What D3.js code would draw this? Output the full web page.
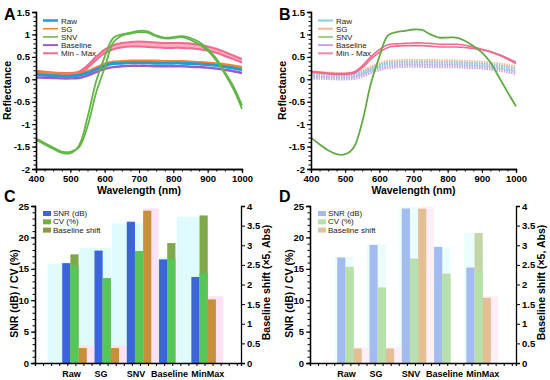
<!DOCTYPE html>
<html>
<head>
<meta charset="utf-8">
<script src="https://cdn.jsdelivr.net/npm/d3@7"></script>
<style>
body { margin: 0; background: #fff; }
svg { font-family: "Liberation Sans", Arial, sans-serif; }
.tick text { font-weight: bold; }
</style>
</head>
<body>
<svg id="canvas"></svg>
<script>
// ---- spectra (panels A and B) ----
const wavelengths = [400,425,450,475,500,525,550,575,600,625,650,675,700,725,750,775,800,825,850,875,900,925,950,975,1000];

const rawA      = [0.10,0.09,0.08,0.07,0.07,0.09,0.14,0.22,0.30,0.35,0.36,0.37,0.37,0.37,0.36,0.36,0.36,0.36,0.35,0.34,0.33,0.31,0.28,0.25,0.21];
const sgA       = [0.15,0.14,0.13,0.12,0.12,0.13,0.18,0.26,0.34,0.39,0.40,0.41,0.41,0.41,0.41,0.40,0.40,0.40,0.39,0.38,0.37,0.35,0.33,0.30,0.27];
const baselineA = [0.04,0.035,0.03,0.02,0.02,0.03,0.08,0.16,0.23,0.27,0.29,0.30,0.30,0.30,0.29,0.29,0.29,0.29,0.28,0.27,0.26,0.24,0.21,0.18,0.14];
const minMaxHiA = [0.19,0.17,0.15,0.14,0.14,0.17,0.31,0.50,0.66,0.76,0.81,0.83,0.84,0.83,0.82,0.81,0.81,0.81,0.80,0.77,0.73,0.68,0.61,0.53,0.45];
const minMaxLoA = [0.16,0.14,0.12,0.11,0.11,0.13,0.25,0.43,0.58,0.67,0.71,0.73,0.73,0.72,0.71,0.70,0.70,0.70,0.69,0.67,0.64,0.59,0.52,0.45,0.37];
const snvA1     = [-1.35,-1.45,-1.55,-1.64,-1.65,-1.48,-0.85,-0.05,0.50,0.92,1.00,1.04,1.08,1.07,0.98,0.93,0.94,0.96,0.92,0.83,0.68,0.46,0.16,-0.16,-0.58];
const snvA2     = [-1.32,-1.42,-1.52,-1.61,-1.62,-1.52,-1.05,-0.30,0.25,0.82,0.97,1.02,1.05,1.04,0.96,0.91,0.92,0.94,0.88,0.78,0.64,0.42,0.12,-0.22,-0.66];

const minMaxHiB = [0.18,0.16,0.14,0.13,0.13,0.16,0.30,0.50,0.66,0.77,0.79,0.80,0.81,0.81,0.80,0.78,0.78,0.78,0.76,0.72,0.67,0.62,0.55,0.47,0.38];
const minMaxLoB = [0.16,0.14,0.12,0.11,0.11,0.13,0.26,0.45,0.60,0.71,0.74,0.75,0.75,0.75,0.74,0.72,0.72,0.72,0.71,0.69,0.66,0.61,0.54,0.45,0.35];
const snvB      = [-1.30,-1.45,-1.58,-1.67,-1.67,-1.52,-0.95,-0.10,0.50,0.98,1.05,1.08,1.11,1.10,1.00,0.93,0.93,0.93,0.86,0.74,0.60,0.38,0.05,-0.28,-0.60];

const seriesNames = ["Raw", "SG", "SNV", "Baseline", "Min - Max"];
const yTicksA = [-2,-1.5,-1,-0.5,0,0.5,1,1.5];
const xTicksA = [400,500,600,700,800,900,1000];

// ---- metrics (panels C and D) ----
const categories = ["Raw", "SG", "SNV", "Baseline", "MinMax"];
const barKeys = ["SNR (dB)", "CV (%)", "Baseline shift"];

const snrC        = [15.9, 17.9, 22.5, 16.5, 13.7];
const cvC         = [17.3, 13.5, 17.8, 19.1, 23.5];
const cvLowC      = [15.5, 13.5, 17.8, 16.6, 14.3];
const shiftC      = [0.38, 0.38, 3.88, 0, 1.62];
const snrGhostC   = [15.8, 18.3, 22.2, 16.9, 23.3];
const shiftGhostC = [0.45, 0.45, 3.94, 0, 1.70];

const snrD        = [16.8, 18.8, 24.6, 18.5, 15.2];
const cvD         = [15.3, 12.0, 16.6, 14.2, 20.7];
const cvLowD      = [15.3, 12.0, 16.6, 14.2, 14.6];
const shiftD      = [0.37, 0.37, 3.93, 0, 1.66];
const snrGhostD   = [16.9, 18.9, 24.8, 18.3, 20.7];
const shiftGhostD = [0.40, 0.40, 3.98, 0, 1.70];

const leftTicks = [0,5,10,15,20,25];
const rightTicks = [0,0.5,1,1.5,2,2.5,3,3.5,4];

const width = 550;
const height = 380;

const svg = d3.select('#canvas').attr('width', width).attr('height', height);

const panelLetter = (x, y, t) => {
    svg.append('text').attr('x', x).attr('y', y).text(t)
        .style('font-size', '16px').style('font-weight', 'bold');
}

const styleAxis = (g) => {
    g.select('.domain').attr('stroke', '#000').attr('stroke-width', 1.3);
    g.selectAll('.tick line').attr('stroke', '#000').attr('stroke-width', 1);
    g.selectAll('.tick text').style('font-size', '9.5px').attr('fill', '#000');
}

const drawLinePanel = (cfg) => {
    const top = 12, bottom = 169;
    const xScale = d3.scaleLinear().domain([400, 1000]).range([cfg.left, cfg.right]);
    const yScale = d3.scaleLinear().domain([-2, 1.5]).range([bottom, top]);
    const g = svg.append('g');

    const line = d3.line()
        .x((d, i) => xScale(wavelengths[i]))
        .y(d => yScale(d))
        .curve(d3.curveCatmullRom.alpha(0.5));
    const area = d3.area()
        .x((d, i) => xScale(wavelengths[i]))
        .y0(d => yScale(d[0]))
        .y1(d => yScale(d[1]))
        .curve(d3.curveCatmullRom.alpha(0.5));

    cfg.series.forEach(s => {
        if (s.band) {
            g.append('path')
                .datum(s.band[0].map((v, i) => [v, s.band[1][i]]))
                .attr('d', area)
                .attr('fill', s.color)
                .attr('opacity', s.bandOpacity);
        }
        s.lines.forEach(arr => {
            g.append('path')
                .datum(arr)
                .attr('d', line)
                .attr('fill', 'none')
                .attr('stroke', s.color)
                .attr('stroke-width', s.width)
                .attr('stroke-dasharray', s.dash || null)
                .attr('opacity', s.opacity || 1);
        });
    });

    // axes
    const xMinor = g.append('g').attr('transform', 'translate(0,' + bottom + ')')
        .call(d3.axisBottom(xScale).tickValues(d3.range(400, 1001, 25)).tickSize(2.5).tickFormat(''));
    styleAxis(xMinor);
    const xAxis = g.append('g').attr('transform', 'translate(0,' + bottom + ')')
        .call(d3.axisBottom(xScale).tickValues(xTicksA).tickSize(4).tickPadding(2).tickFormat(d3.format('d')));
    styleAxis(xAxis);

    const yMinor = g.append('g').attr('transform', 'translate(' + cfg.left + ',0)')
        .call(d3.axisLeft(yScale).tickValues(d3.range(-20, 16, 1).map(v => v / 10)).tickSize(2.5).tickFormat(''));
    styleAxis(yMinor);
    const yAxis = g.append('g').attr('transform', 'translate(' + cfg.left + ',0)')
        .call(d3.axisLeft(yScale).tickValues(yTicksA).tickSize(4).tickPadding(2).tickFormat(d => String(d)));
    styleAxis(yAxis);

    g.append('text')
        .attr('x', (cfg.left + cfg.right) / 2).attr('y', 194)
        .attr('text-anchor', 'middle')
        .style('font-size', '10.5px').style('font-weight', 'bold')
        .text('Wavelength (nm)');
    g.append('text')
        .attr('transform', 'translate(' + (cfg.left - 25) + ',' + ((top + bottom) / 2) + ') rotate(-90)')
        .attr('text-anchor', 'middle')
        .style('font-size', '10.5px').style('font-weight', 'bold')
        .text('Reflectance');

    // legend
    const leg = g.append('g').attr('transform', 'translate(' + (cfg.left + 7) + ',20.5)');
    cfg.legend.forEach((l, i) => {
        leg.append('line')
            .attr('x1', 0).attr('x2', 15).attr('y1', i * 8.2).attr('y2', i * 8.2)
            .attr('stroke', l.color).attr('stroke-width', l.width);
        leg.append('text')
            .attr('x', 18).attr('y', i * 8.2 + 3)
            .style('font-size', '8px').attr('fill', '#222')
            .text(seriesNames[i]);
    });
}

const drawBarPanel = (cfg) => {
    const top = 206, bottom = 363;
    const x0 = d3.scaleBand().domain(categories).range([cfg.left, cfg.right])
        .paddingInner(0.24).paddingOuter(0.81).align(0.52);
    const x1 = d3.scaleBand().domain(barKeys).range([0, x0.bandwidth()]);
    const bw = x1.bandwidth();
    const yL = d3.scaleLinear().domain([0, 25]).range([bottom, top]);
    const yR = d3.scaleLinear().domain([0, 4]).range([bottom, top]);
    const g = svg.append('g');

    const rows = categories.map((c, i) => ({
        c, snr: cfg.snr[i], cv: cfg.cv[i], cvLow: cfg.cvLow[i], shift: cfg.shift[i],
        snrGhost: cfg.snrGhost[i], shiftGhost: cfg.shiftGhost[i]
    }));

    // faint offset copies behind the bars
    g.selectAll('.ghostA').data(rows).enter().append('rect')
        .attr('x', d => x0(d.c) - cfg.ghostLeft * bw)
        .attr('width', (2 + cfg.ghostLeft) * bw)
        .attr('y', d => yL(d.snrGhost))
        .attr('height', d => bottom - yL(d.snrGhost))
        .attr('fill', cfg.colors.ghostA);
    g.selectAll('.ghostB').data(rows).enter().append('rect')
        .attr('x', d => x0(d.c) + x1(barKeys[2]))
        .attr('width', 1.9 * bw)
        .attr('y', d => yR(d.shiftGhost))
        .attr('height', d => bottom - yR(d.shiftGhost))
        .attr('fill', cfg.colors.ghostB);

    g.selectAll('.snr').data(rows).enter().append('rect')
        .attr('x', d => x0(d.c) + x1(barKeys[0]))
        .attr('width', bw)
        .attr('y', d => yL(d.snr))
        .attr('height', d => bottom - yL(d.snr))
        .attr('fill', cfg.colors.snr);
    g.selectAll('.cv').data(rows).enter().append('rect')
        .attr('x', d => x0(d.c) + x1(barKeys[1]))
        .attr('width', bw)
        .attr('y', d => yL(d.cv))
        .attr('height', d => bottom - yL(d.cv))
        .attr('fill', cfg.colors.cvTop);
    g.selectAll('.cvLow').data(rows).enter().append('rect')
        .attr('x', d => x0(d.c) + x1(barKeys[1]))
        .attr('width', bw)
        .attr('y', d => yL(d.cvLow))
        .attr('height', d => bottom - yL(d.cvLow))
        .attr('fill', cfg.colors.cv);
    g.selectAll('.shift').data(rows).enter().append('rect')
        .attr('x', d => x0(d.c) + x1(barKeys[2]))
        .attr('width', bw)
        .attr('y', d => yR(d.shift))
        .attr('height', d => bottom - yR(d.shift))
        .attr('fill', cfg.colors.shift);

    // axes
    const slots = d3.scaleLinear().domain([0, (cfg.right - cfg.left) / (x0.step() / 4)]).range([cfg.left, cfg.right]);
    const xAxis = g.append('g').attr('transform', 'translate(0,' + bottom + ')')
        .call(d3.axisBottom(slots).tickValues(d3.range(0, Math.floor(slots.domain()[1]) + 1)).tickSize(3).tickFormat(''));
    styleAxis(xAxis);
    // labels start at the first bar of each group; "Baseline" is pulled left a little
    categories.forEach(c => {
        g.append('text')
            .attr('x', x0(c) + (c === 'Baseline' ? -8 : 0)).attr('y', 376.5)
            .style('font-size', '9px').style('font-weight', 'bold')
            .text(c);
    });

    const yMinor = g.append('g').attr('transform', 'translate(' + cfg.left + ',0)')
        .call(d3.axisLeft(yL).tickValues(d3.range(0, 26)).tickSize(2.5).tickFormat(''));
    styleAxis(yMinor);
    const yAxis = g.append('g').attr('transform', 'translate(' + cfg.left + ',0)')
        .call(d3.axisLeft(yL).tickValues(leftTicks).tickSize(4).tickPadding(2));
    styleAxis(yAxis);
    const rAxis = g.append('g').attr('transform', 'translate(' + cfg.right + ',0)')
        .call(d3.axisRight(yR).tickValues(rightTicks).tickSize(4).tickPadding(2).tickFormat(d => String(d)));
    styleAxis(rAxis);

    g.append('text')
        .attr('transform', 'translate(' + (cfg.left - 17) + ',' + ((top + bottom) / 2 + 9) + ') rotate(-90)')
        .attr('text-anchor', 'middle')
        .style('font-size', '10.5px').style('font-weight', 'bold')
        .text('SNR (dB) / CV (%)');
    g.append('text')
        .attr('transform', 'translate(' + (cfg.right + 29) + ',' + ((top + bottom) / 2 - 2) + ') rotate(-90)')
        .attr('text-anchor', 'middle')
        .style('font-size', '10.5px').style('font-weight', 'bold')
        .text('Baseline shift (×5, Abs)');

    // legend
    const leg = g.append('g').attr('transform', 'translate(' + (cfg.left + 8) + ',211)');
    barKeys.forEach((k, i) => {
        leg.append('rect')
            .attr('x', 0).attr('y', i * 8.3).attr('width', 8).attr('height', 5)
            .attr('fill', cfg.colors.legend[i]);
        leg.append('text')
            .attr('x', 10).attr('y', i * 8.3 + 5)
            .style('font-size', '8px').attr('fill', '#222')
            .text(k);
    });
}

drawLinePanel({
    left: 36, right: 242,
    series: [
        { color: '#f26a8d', lines: [minMaxHiA, minMaxLoA], width: 2, band: [minMaxLoA, minMaxHiA], bandOpacity: 0.55 },
        { color: '#f58232', lines: [sgA], width: 2.6 },
        { color: '#1c9fd6', lines: [rawA], width: 3 },
        { color: '#9a5ccc', lines: [baselineA], width: 2.4 },
        { color: '#62b645', lines: [snvA1, snvA2], width: 1.8 }
    ],
    legend: [
        { color: '#1c9fd6', width: 2.5 },
        { color: '#f58232', width: 1.5 },
        { color: '#62b645', width: 1.5 },
        { color: '#9a5ccc', width: 2 },
        { color: '#f26a8d', width: 2 }
    ]
});

drawLinePanel({
    left: 311, right: 516,
    series: [
        { color: '#f9b59a', lines: [sgA], width: 4, dash: '1.5 1' },
        { color: '#86d0e6', lines: [rawA], width: 4, dash: '1.5 1' },
        { color: '#c8a8e2', lines: [baselineA], width: 4, dash: '1.5 1' },
        { color: '#f06a8c', lines: [minMaxHiB, minMaxLoB], width: 1.6 },
        { color: '#63a944', lines: [snvB], width: 1.8 }
    ],
    legend: [
        { color: '#86d0e6', width: 2 },
        { color: '#f9b59a', width: 2 },
        { color: '#9fcf8a', width: 2 },
        { color: '#c8a8e2', width: 2 },
        { color: '#f58aa6', width: 2 }
    ]
});

drawBarPanel({
    left: 35, right: 241, ghostLeft: 1.8,
    snr: snrC, cv: cvC, cvLow: cvLowC, shift: shiftC, snrGhost: snrGhostC, shiftGhost: shiftGhostC,
    colors: { snr: '#3c64dc', cv: '#56c656', cvTop: '#80a84c', shift: '#c88f3a',
              ghostA: '#dffbfe', ghostB: '#fde2f3', legend: ['#3c64dc', '#72b045', '#8d9b3e'] }
});

drawBarPanel({
    left: 310, right: 516, ghostLeft: 0.3,
    snr: snrD, cv: cvD, cvLow: cvLowD, shift: shiftD, snrGhost: snrGhostD, shiftGhost: shiftGhostD,
    colors: { snr: '#a4bbef', cv: '#b7e0aa', cvTop: '#c4d6a8', shift: '#e3bf96',
              ghostA: '#ecfdfe', ghostB: '#fdeef7', legend: ['#a4bbef', '#b7e0aa', '#dcc79c'] }
});

panelLetter(4, 20, 'A');
panelLetter(279, 20, 'B');
panelLetter(4, 202, 'C');
panelLetter(279, 202, 'D');
</script>
</body>
</html>
